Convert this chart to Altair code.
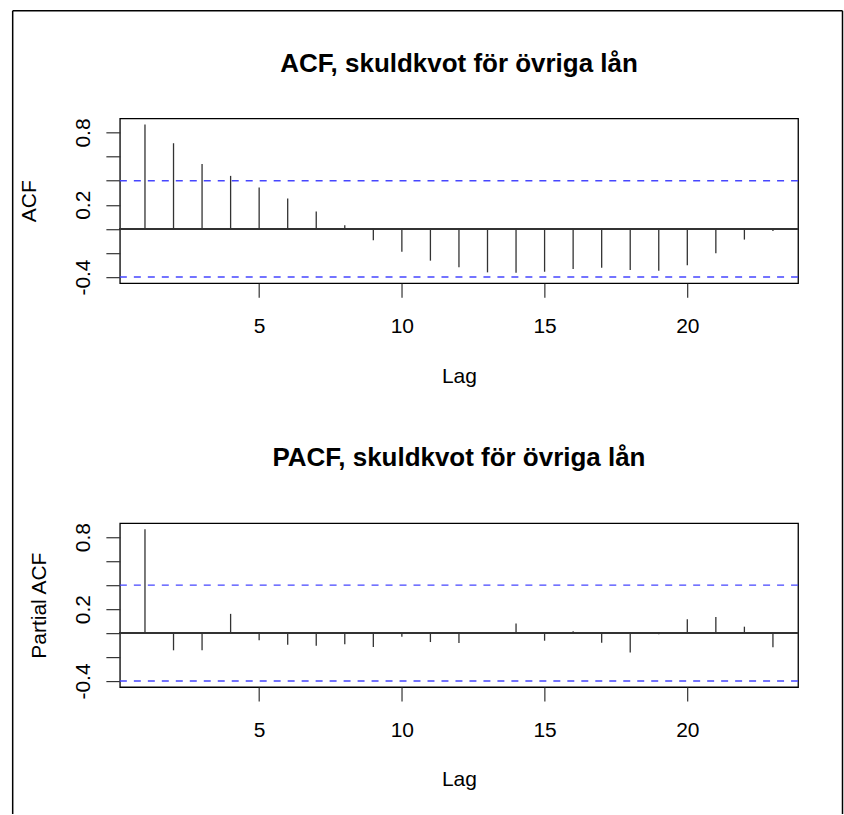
import json
import altair as alt
import pandas as pd

# ---- data ----
LAGS = list(range(1, 24))
ACF_VALUES = [0.867, 0.711, 0.539, 0.440, 0.344, 0.253, 0.144, 0.030, -0.094, -0.189,
              -0.264, -0.319, -0.361, -0.364, -0.356, -0.333, -0.322, -0.342, -0.347, -0.303,
              -0.203, -0.089, -0.017]
PACF_VALUES = [0.865, -0.144, -0.144, 0.160, -0.061, -0.097, -0.105, -0.094, -0.116, -0.030,
               -0.075, -0.083, -0.008, 0.080, -0.064, 0.014, -0.080, -0.163, -0.010, 0.116,
               0.133, 0.053, -0.119]
CONF_LIMIT = 0.4
X_TICKS = [5, 10, 15, 20]
Y_TICKS = [-0.4, -0.2, 0.0, 0.2, 0.4, 0.6, 0.8]
Y_LABELS_SHOWN = [0.8, 0.2, -0.4]
TITLES = ["ACF, skuldkvot för övriga lån", "PACF, skuldkvot för övriga lån"]
Y_TITLES = ["ACF", "Partial ACF"]
X_TITLE = "Lag"

FONT = "Liberation Sans"
PLOT_W = 679
BAR_COLOR = "#333333"
CI_COLOR = "#4646ff"


def r_range(lo, hi):
    pad = 0.04 * (hi - lo)
    return [lo - pad, hi + pad]


X_DOMAIN = r_range(min(LAGS), max(LAGS))
LABEL_EXPR = "indexof(%s, datum.value) >= 0 ? toString(datum.value) : ''" % json.dumps(Y_LABELS_SHOWN)


def panel(values, title, ytitle, height, title_offset, ytitle_x, frame=False):
    df = pd.DataFrame({"lag": LAGS, "value": values})
    lo = min(-CONF_LIMIT, min(values))
    hi = max(CONF_LIMIT, max(values))
    y_dom = r_range(lo, hi)

    x = alt.X("lag:Q",
              scale=alt.Scale(domain=X_DOMAIN, nice=False, zero=False),
              axis=alt.Axis(values=X_TICKS, tickCount=50, title=X_TITLE, format="d",
                            labelPadding=18, labelBaseline="top",
                            titleY=99, titleBaseline="alphabetic"))
    y = alt.Y("value:Q",
              scale=alt.Scale(domain=y_dom, nice=False, zero=False),
              axis=alt.Axis(values=Y_TICKS, tickCount=50, title=ytitle, labelExpr=LABEL_EXPR,
                            labelAngle=270, labelAlign="center", labelBaseline="alphabetic",
                            labelPadding=16, titleAngle=270, titleX=ytitle_x,
                            titleBaseline="alphabetic"))

    bars = alt.Chart(df).mark_rule(color=BAR_COLOR, strokeWidth=1.3).encode(
        x=x, y=y, y2=alt.datum(0))
    zero = alt.Chart(df).mark_rule(color=BAR_COLOR, strokeWidth=1.3).encode(y=alt.datum(0))
    ci_df = pd.DataFrame({"value": [CONF_LIMIT, -CONF_LIMIT]})
    ci = alt.Chart(ci_df).mark_rule(color=CI_COLOR, strokeWidth=1.4,
                                    strokeDash=[7, 7]).encode(y="value:Q")
    layers = [ci, zero, bars]
    if frame:
        fdf = pd.DataFrame({"side": ["frame"]})
        fl = alt.Chart(fdf).mark_rule(color="black", strokeWidth=1.5).encode(
            x=alt.value(-107.3), y=alt.value(-107.8), y2=alt.value(696.5))
        ft = alt.Chart(fdf).mark_rule(color="black", strokeWidth=1.5).encode(
            x=alt.value(-107.3), x2=alt.value(723.5), y=alt.value(-107.8))
        fr = alt.Chart(fdf).mark_rule(color="black", strokeWidth=1.5).encode(
            x=alt.value(723.5), y=alt.value(-107.8), y2=alt.value(696.5))
        layers += [fl, ft, fr]
    return alt.layer(*layers).properties(
        width=PLOT_W, height=height,
        title=alt.TitleParams(text=title, offset=title_offset))


top = panel(ACF_VALUES, TITLES[0], Y_TITLES[0], 165, -67, -84, frame=True)
bottom = panel(PACF_VALUES, TITLES[1], Y_TITLES[1], 164, 52, -74)

chart = alt.vconcat(top, bottom, spacing=240.4, bounds="flush").properties(
    padding={"left": 11, "top": 8, "right": 0, "bottom": 0}
).configure_view(
    stroke="black", strokeWidth=1.3
).configure_axis(
    domain=False, grid=False, tickSize=14, tickColor=BAR_COLOR, tickWidth=1.2,
    labelFont=FONT, labelFontSize=21, labelColor="black", labelOverlap=False,
    labelFlush=False, titleFont=FONT, titleFontSize=21, titleFontWeight="normal",
    titleColor="black"
).configure_title(
    font=FONT, fontSize=26, fontWeight="bold", anchor="middle", frame="group",
    baseline="alphabetic", color="black"
)

chart.save("out.html", embed_options={"renderer": "svg", "actions": False})
